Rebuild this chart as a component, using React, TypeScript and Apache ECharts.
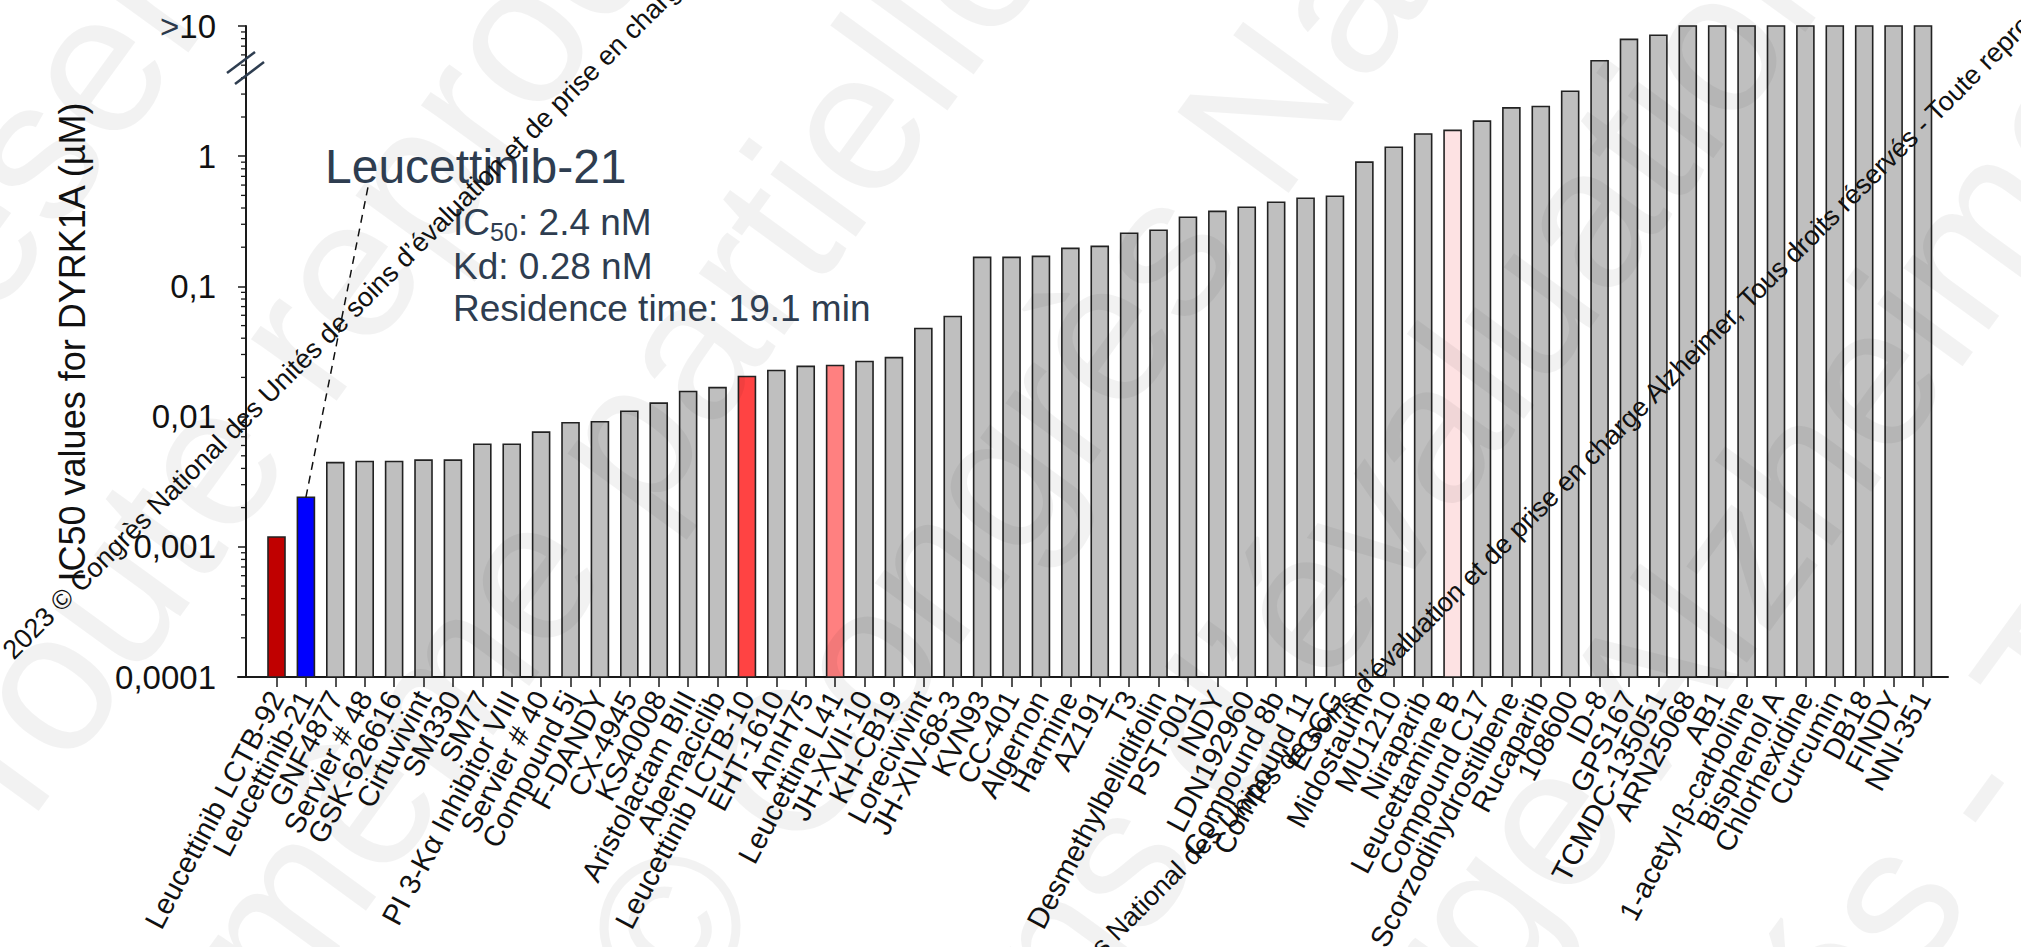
import React, { useEffect, useRef } from "react";
import * as echarts from "echarts";

// Compounds tested against DYRK1A, ordered by potency
const compounds = [
  "Leucettinib LCTB-92", "Leucettinib-21", "GNF4877", "Servier # 48", "GSK-626616",
  "Cirtuvivint", "SM330", "SM77", "PI 3-Kα Inhibitor VIII", "Servier # 40",
  "Compound 5j", "F-DANDY", "CX-4945", "KS40008", "Aristolactam BIII",
  "Abemaciclib", "Leucettinib LCTB-10", "EHT-1610", "AnnH75", "Leucettine L41",
  "JH-XVII-10", "KH-CB19", "Lorecivivint", "JH-XIV-68-3", "KVN93",
  "CC-401", "Algernon", "Harmine", "AZ191", "T3",
  "Desmethylbellidifolin", "PST-001", "INDY", "LDN192960", "Compound 8b",
  "Compound 11", "EGCG", "Midostaurin", "MU1210", "Niraparib",
  "Leucettamine B", "Compound C17", "Scorzodihydrostilbene", "Rucaparib", "108600",
  "ID-8", "GPS167", "TCMDC-135051", "ARN25068", "AB1",
  "1-acetyl-β-carboline", "Bisphenol A", "Chlorhexidine", "Curcumin", "DB18",
  "FINDY", "NNI-351",
];

// IC50 (µM); compounds above 10 µM are shown at the 10 µM ceiling
const ic50 = [
  0.00119, 0.0024, 0.00443, 0.00452, 0.00452,
  0.00463, 0.00463, 0.00614, 0.00614, 0.0076,
  0.00896, 0.00912, 0.011, 0.0127, 0.0156,
  0.0167, 0.0203, 0.0226, 0.0243, 0.0247,
  0.0265, 0.0284, 0.0475, 0.0588, 0.167,
  0.167, 0.17, 0.196, 0.203, 0.256,
  0.27, 0.34, 0.377, 0.405, 0.443,
  0.475, 0.492, 0.9, 1.17, 1.48,
  1.58, 1.86, 2.35, 2.41, 3.15,
  5.41, 7.9, 8.5, 10, 10,
  10, 10, 10, 10, 10,
  10, 10,
];

// Highlighted compounds and their fills; everything else is grey
const highlightNames = ["Leucettinib LCTB-92", "Leucettinib-21", "Leucettinib LCTB-10", "Leucettine L41", "Leucettamine B"];
const highlightFills = ["#C00000", "#0000FF", "#FF4343", "#FF8080", "#FDE2E3"];
const DEFAULT_FILL = "#BFBFBF";

const yTickLabels = ["0,0001", "0,001", "0,01", "0,1", "1", ">10"];
const minorTickValues = [
  0.0002, 0.0003, 0.0004, 0.0005, 0.0006, 0.0007, 0.0008, 0.0009,
  0.002, 0.003, 0.004, 0.005, 0.006, 0.007, 0.008, 0.009,
  0.02, 0.03, 0.04, 0.05, 0.06, 0.07, 0.08, 0.09,
  0.2, 0.3, 0.4, 0.5, 0.6, 0.7, 0.8, 0.9,
  2, 3, 4, 5, 6, 7, 8, 9,
];

const Y_MIN = 0.0001;
const Y_MAX = 10;
const Y_TITLE = "IC50 values for DYRK1A (µM)";

const FONT = '"Liberation Sans", Arial, Helvetica, sans-serif';
const INK = "#1a1a1a";
const SLATE = "#2E3D50";

const COPYRIGHT =
  "2023 © Congrès National des Unités de soins d’évaluation et de prise en charge Alzheimer, Tous droits réservés - Toute reproduction même partielle est interdite";
const COPY_TAIL = "Toute reproduction même partielle est interdite - ";

function fillFor(name: string): string {
  const k = highlightNames.indexOf(name);
  return k >= 0 ? highlightFills[k] : DEFAULT_FILL;
}

function renderBar(params: any, api: any) {
  const i = api.value(0);
  const v = api.value(1);
  const top = api.coord([i, v]);
  const base = api.coord([i, Y_MIN]);
  const w = 17;
  return {
    type: "rect",
    shape: { x: top[0] - w / 2, y: top[1], width: w, height: base[1] - top[1] },
    style: { fill: api.visual("color"), stroke: "#222", lineWidth: 1.6 },
  };
}

function renderMinorTick(params: any, api: any) {
  const p = api.coord([0, api.value(1)]);
  return {
    type: "line",
    shape: { x1: p[0] - 5, y1: p[1], x2: p[0], y2: p[1] },
    style: { stroke: INK, lineWidth: 1.3 },
  };
}

function buildGraphics(barTop: number[]) {
  const ang = (54 * Math.PI) / 180;
  const faint = "rgba(0,0,0,0.05)";
  const bigLines: [number, number, string][] = [
    [-706, 1165, "Tous droits réservés - " + COPY_TAIL + COPYRIGHT],
    [-48, 812, COPY_TAIL + COPYRIGHT],
    [-777, 2365, COPY_TAIL + COPYRIGHT + " - " + COPYRIGHT],
    [332, 1391, COPYRIGHT + " - " + COPYRIGHT],
    [342, 1927, "Unités de soins d’évaluation et de prise en charge Alzheimer, Tous droits réservés - " + COPY_TAIL + COPYRIGHT],
    [604, 2117, "de prise en charge Alzheimer, Tous droits réservés - " + COPY_TAIL + COPYRIGHT],
    [866, 2308, "Tous droits réservés - " + COPY_TAIL + COPYRIGHT],
  ];
  const els: any[] = bigLines.map(([x, y, text]) => ({
    type: "text",
    x,
    y,
    rotation: ang,
    silent: true,
    z: 50,
    style: { text, fontSize: 200, fontFamily: FONT, fill: faint, align: "left", verticalAlign: "middle" },
  }));

  // y-axis title
  els.push({
    type: "text",
    x: 72,
    y: 342,
    rotation: Math.PI / 2,
    z: 60,
    style: { text: Y_TITLE, fontSize: 36, fontFamily: FONT, fill: "#111", align: "center", verticalAlign: "middle" },
  });

  // leader from the Leucettinib-21 bar to its caption
  els.push({
    type: "line",
    z: 60,
    shape: { x1: barTop[0], y1: barTop[1], x2: 368, y2: 187 },
    style: { stroke: "#111", lineWidth: 1.5, lineDash: [8, 6] },
  });

  const caption = (x: number, y: number, text: string, size: number) => ({
    type: "text",
    x,
    y,
    z: 60,
    style: { text, fontSize: size, fontFamily: FONT, fill: SLATE, align: "left", verticalAlign: "middle" },
  });
  els.push(caption(325, 166, "Leucettinib-21", 48));
  els.push(caption(453, 222, "IC", 37));
  els.push(caption(490, 232, "50", 25));
  els.push(caption(518, 222, ": 2.4 nM", 37));
  els.push(caption(453, 266, "Kd: 0.28 nM", 37));
  els.push(caption(453, 308, "Residence time: 19.1 min", 37));

  // axis break marks
  els.push({ type: "line", z: 60, shape: { x1: 227, y1: 73, x2: 255, y2: 52 }, style: { stroke: SLATE, lineWidth: 2.5 } });
  els.push({ type: "line", z: 60, shape: { x1: 235, y1: 84, x2: 264, y2: 62 }, style: { stroke: SLATE, lineWidth: 2.5 } });

  // diagonal copyright notices
  const notice = (x: number, y: number) => ({
    type: "text",
    x,
    y,
    rotation: Math.PI / 4,
    silent: true,
    z: 70,
    style: { text: COPYRIGHT, fontSize: 27, fontFamily: FONT, fill: "#111", align: "left", verticalAlign: "bottom" },
  });
  els.push(notice(17, 664));
  els.push(notice(976, 1090));
  return els;
}

export default function App() {
  const ref = useRef<HTMLDivElement>(null);

  useEffect(() => {
    if (!ref.current) return;
    const chart = echarts.init(ref.current, null, { renderer: "svg" });

    const gridBox = { top: 26, bottom: 270, containLabel: false, outerBoundsMode: "none" };

    const option: any = {
      animation: false,
      backgroundColor: "#ffffff",
      grid: [
        { ...gridBox, left: 261.8, right: 83.3 },
        { ...gridBox, left: 246, right: 73 },
        { ...gridBox, left: 238, right: 73 },
      ],
      xAxis: [
        {
          type: "category",
          gridIndex: 0,
          data: compounds,
          axisLine: { show: false },
          axisTick: { show: true, alignWithLabel: true, length: 10, lineStyle: { color: INK, width: 1.5 } },
          axisLabel: { interval: 0, rotate: 62, fontSize: 29, color: "#111", fontFamily: FONT, margin: 16 },
          splitLine: { show: false },
        },
        { type: "value", gridIndex: 1, min: 0, max: 1, show: false },
        {
          type: "value",
          gridIndex: 2,
          min: 0,
          max: 1,
          axisLine: { show: true, onZero: false, lineStyle: { color: INK, width: 2 } },
          axisTick: { show: false },
          axisLabel: { show: false },
          splitLine: { show: false },
        },
      ],
      yAxis: [
        { type: "log", gridIndex: 0, min: Y_MIN, max: Y_MAX, logBase: 10, show: false },
        {
          type: "log",
          gridIndex: 1,
          min: Y_MIN,
          max: Y_MAX,
          logBase: 10,
          axisLine: { show: true, onZero: false, lineStyle: { color: INK, width: 2 } },
          axisTick: { show: true, length: 8, lineStyle: { color: INK, width: 1.5 } },
          splitLine: { show: false },
          axisLabel: {
            fontSize: 33,
            fontFamily: FONT,
            color: "#111",
            margin: 30,
            formatter: (v: number) => {
              const label = yTickLabels[Math.round(Math.log10(v)) + 4] || "";
              return label.startsWith(">") ? "{gt|>}" + label.slice(1) : label;
            },
            rich: { gt: { fontSize: 33, fontFamily: FONT, color: SLATE } },
          },
        },
        { type: "value", gridIndex: 2, min: 0, max: 1, show: false },
      ],
      series: [
        {
          type: "custom",
          name: "IC50",
          xAxisIndex: 0,
          yAxisIndex: 0,
          renderItem: renderBar,
          encode: { x: 0, y: 1 },
          data: ic50.map((v, i) => ({ value: [i, v], itemStyle: { color: fillFor(compounds[i]) } })),
          z: 5,
        },
        {
          type: "custom",
          name: "minor ticks",
          xAxisIndex: 1,
          yAxisIndex: 1,
          renderItem: renderMinorTick,
          encode: { x: 0, y: 1 },
          data: minorTickValues.map((v) => [0, v]),
          silent: true,
          z: 6,
        },
      ],
    };

    chart.setOption(option);
    const barTop = chart.convertToPixel({ xAxisIndex: 0, yAxisIndex: 0 }, [1, ic50[1]]) as number[];
    chart.setOption({ graphic: buildGraphics(barTop) });

    return () => chart.dispose();
  }, []);

  return (
    <div
      ref={ref}
      style={{ position: "fixed", left: 0, top: 0, width: 2021, height: 947, background: "#fff" }}
    />
  );
}
